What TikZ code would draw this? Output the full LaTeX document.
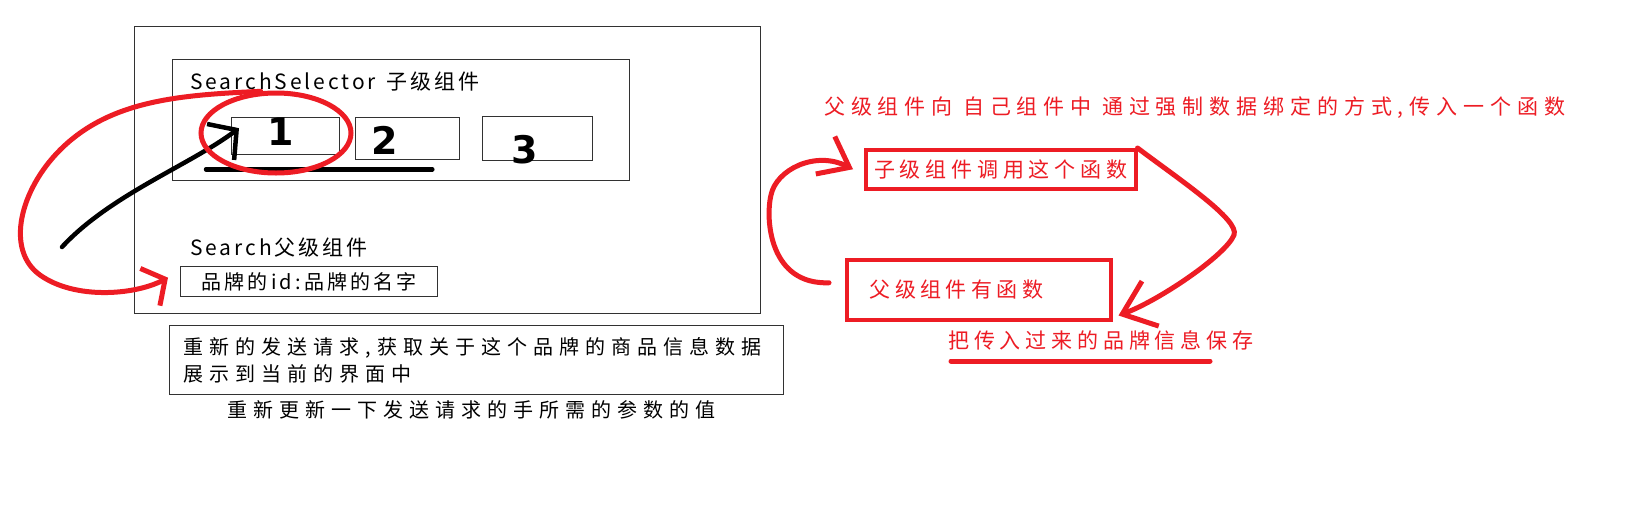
\documentclass[tikz,border=0pt]{standalone}
\usepackage{fontspec}
\setmainfont{Noto Sans CJK SC}
\newfontfamily\handfont{DejaVu Sans}
\usepackage{tikz}
\usetikzlibrary{calc,shapes.geometric,arrows.meta}
\usepackage{xcolor}
\definecolor{paintred}{RGB}{237,28,36}
\definecolor{framegray}{RGB}{50,50,50}
\newcommand{\cjksize}[2]{\fontsize{#1}{27}\selectfont\addfontfeature{LetterSpace=#2}}

\begin{document}
\begin{tikzpicture}[x=1pt,y=-1pt,
  grayframe/.style={draw=framegray, line width=1.3pt, inner sep=0pt, anchor=north west},
  redframe/.style={draw=paintred, line width=3.5pt, inner sep=0pt, anchor=north west},
  blackpen/.style={line width=4.5pt, line cap=round, line join=round},
  redpen/.style={draw=paintred, line width=5pt, line cap=round, line join=round},
  digit/.style={font=\handfont\bfseries\fontsize{38}{38}\selectfont, inner sep=0pt}]
\useasboundingbox [fill=white] (0,0) rectangle (1651,520);
\node [grayframe, minimum width=626pt, minimum height=287pt] (search) at (134,26) {};
\node [grayframe, minimum width=457pt, minimum height=121pt] (selector) at (172,59) {};
\node [anchor=west, inner sep=0pt, font=\cjksize{21}{14}] (sellabel) at (190,82) {SearchSelector\enspace 子级组件};
\node [grayframe, minimum width=108pt, minimum height=37pt] (box1) at (231,117) {};
\node [grayframe, minimum width=104pt, minimum height=42pt] (box2) at (355,117) {};
\node [grayframe, minimum width=110pt, minimum height=44pt] (box3) at (482,116) {};
\node [digit] (one) at (281,132) {1};
\node [digit] (two) at (385,140) {2};
\node [digit] (three) at (525,150) {3};
\draw [blackpen] ($(box1.south west)+(-25,14)$) -- ($(box2.south east)+(-28,9)$);
\node [anchor=west, inner sep=0pt, font=\cjksize{21}{14}] (searchlabel) at (190,248) {Search父级组件};
\node [grayframe, minimum width=257pt, minimum height=30pt, font=\cjksize{20}{16}] (brand) at (180,266) {品牌的id:品牌的名字};
\node [grayframe, minimum height=69pt, text width=586pt, inner xsep=14pt, align=left, font=\cjksize{20}{30}] (request) at (169,325) {重新的发送请求,获取关于这个品牌的商品信息数据\\展示到当前的界面中};
\node [anchor=west, inner sep=0pt, font=\cjksize{20}{30}] (note) at (227,410) {重新更新一下发送请求的手所需的参数的值};
\coordinate (bstart) at (62,247);
\draw [blackpen, -{Straight Barb[length=20pt,width=45pt]}] (bstart) .. controls (110,195) and (190,165) .. ($(box1.west)+(8,-8)$);
\node [draw=paintred, line width=5pt, ellipse, minimum width=150pt, minimum height=80pt] (ring) at (276,133) {};
\draw [redpen, -{Straight Barb[length=17pt,width=42pt]}] (ring.110) .. controls (180,95) and (110,100) .. (60,150) .. controls (20,190) and (5,250) .. (40,275) .. controls (75,300) and (135,295) .. ($(brand.west)+(-12,-4)$);
\node [anchor=west, inner sep=0pt, text=paintred, font=\cjksize{21}{28}] (title) at (824,108) {父级组件向\enspace 自己组件中\enspace 通过强制数据绑定的方式,传入一个函数};
\node [redframe, minimum width=270pt, minimum height=39pt, text=paintred, font=\cjksize{21}{23}] (cfun) at (864,148) {子级组件调用这个函数};
\node [redframe, minimum height=60pt, text width=218pt, inner xsep=23pt, align=left, text=paintred, font=\cjksize{21}{21}] (pfun) at (845,258) {父级组件有函数};
\node [anchor=west, inner sep=0pt, text=paintred, font=\cjksize{21}{23}] (save) at (948,340) {把传入过来的品牌信息保存};
\draw [redpen] ($(save.south west)+(3,11)$) -- ++(259,0);
\draw [redpen, -{Straight Barb[length=27pt,width=42pt]}] ($(pfun.west)+(-16,-7)$) .. controls (770,285) and (765,220) .. (771,195) .. controls (776,170) and (815,150) .. ($(cfun.west)+(-11,0)$);
\draw [redpen, -{Straight Barb[length=30pt,width=48pt]}] (cfun.north east) .. controls (1180,180) and (1240,220) .. (1234,235) .. controls (1226,255) and (1160,300) .. ($(pfun.south east)+(6,-6)$);
\end{tikzpicture}
\end{document}
